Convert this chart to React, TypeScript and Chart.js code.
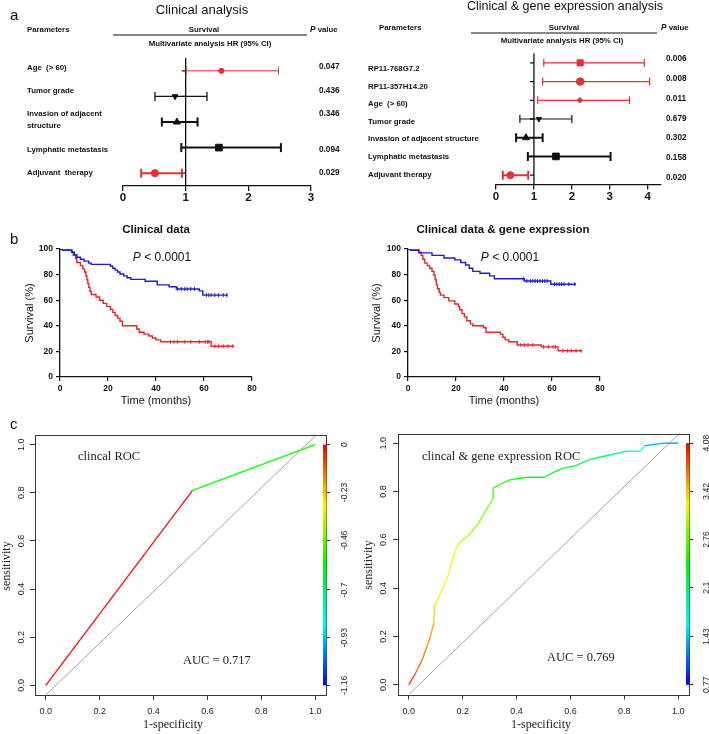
import React, { useEffect, useRef } from 'react';
import { Chart, registerables } from 'chart.js';

Chart.register(...registerables);

const SANS = '"Liberation Sans", Arial, Helvetica, sans-serif';
const SERIF = '"Liberation Serif", "Times New Roman", Times, serif';
const RED = '#e43131';
const BLACK = '#111111';
const KM_BLUE = '#1e1ec8';
const KM_RED = '#e6252b';

// ---------- a: forest plots ----------
const clinRows = ['Age  (> 60)', 'Tumor grade', 'Invasion of adjacent\nstructure', 'Lymphatic metastasis', 'Adjuvant  therapy'];
const clinHR = [1.57, 0.83, 0.86, 1.53, 0.51];
const clinLow = [1.01, 0.51, 0.62, 0.93, 0.29];
const clinHigh = [2.48, 1.34, 1.19, 2.52, 0.94];
const clinP = ['0.047', '0.436', '0.346', '0.094', '0.029'];
const clinSignificant = [true, false, false, false, true];

const geneRows = ['RP11-768G7.2', 'RP11-357H14.20', 'Age  (> 60)', 'Tumor grade', 'Invasion of adjacent structure', 'Lymphatic metastasis', 'Adjuvant therapy'];
const geneHR = [2.22, 2.22, 2.21, 1.13, 0.79, 1.58, 0.38];
const geneLow = [1.26, 1.23, 1.1, 0.63, 0.53, 0.84, 0.18];
const geneHigh = [3.91, 4.05, 3.52, 2.0, 1.23, 3.02, 0.85];
const geneP = ['0.006', '0.008', '0.011', '0.679', '0.302', '0.158', '0.020'];
const geneSignificant = [true, true, true, false, false, false, true];

// ---------- b: Kaplan-Meier ----------
const kmClinLowT = [0, 1, 5, 6, 7, 8.5, 10, 12, 13, 21, 22, 23, 24, 25, 26.5, 28, 29.5, 35.5, 40.5, 45.5, 48.5, 58, 59.5, 70];
const kmClinLowS = [100, 99, 97.5, 95.5, 93.5, 92, 90.5, 89, 88, 86.5, 85, 83.5, 82, 80.5, 79, 77.5, 76.3, 74.8, 72, 70.5, 68.8, 67.3, 64, 64];
const kmClinLowCensor = [49, 50.5, 52, 53, 54.5, 56, 61, 62, 63, 64.5, 66, 68, 69.5];

const kmClinHighT = [0, 4.8, 5.5, 6.5, 7, 8.5, 9.5, 10.2, 10.8, 11.2, 11.6, 12, 12.5, 13, 15, 16.5, 18, 19.5, 21, 22, 23, 24, 25, 26, 32, 33, 35, 37, 38.5, 40, 42, 63, 72.5];
const kmClinHighS = [100, 97.5, 95, 92.5, 89.5, 87, 84.5, 82, 79, 76, 73, 70, 67, 64.5, 62.5, 60, 57.5, 55, 52.7, 50.5, 48, 46, 43.5, 40, 37.5, 35, 33.5, 32, 30.5, 29, 27.5, 24, 24];
const kmClinHighCensor = [46, 47.5, 49, 52, 54.5, 58, 60.5, 61.5, 62, 64.5, 66, 68, 70, 72];

const kmGeneLowT = [0, 1, 4.5, 10, 15, 19.5, 22, 24, 25.5, 27, 30, 34, 36, 48.5, 59.5, 70];
const kmGeneLowS = [100, 99, 97, 95, 93, 91.5, 89.5, 87.5, 85, 82.5, 81, 79, 76.8, 75, 72.5, 72.5];
const kmGeneLowCensor = [48, 49.5, 51, 52, 53, 54, 55, 56, 57, 58, 61, 62, 63, 64, 65, 67, 69.5];

const kmGeneHighT = [0, 4.5, 5.5, 6.2, 7, 8, 9, 10, 10.8, 11.3, 11.8, 12.3, 13, 13.5, 15, 17, 19.5, 21, 21.5, 22.5, 23.5, 24.5, 26, 27, 31.5, 32.5, 38.5, 39.5, 40.5, 42, 45.5, 55.5, 62.5, 72.5];
const kmGeneHighS = [100, 97.5, 95, 92, 89, 87, 85, 82.5, 79.5, 76, 72, 69, 66, 64, 62, 59.5, 57, 55, 52.5, 49.5, 47, 44, 41.5, 40, 38.5, 35, 33.5, 31, 29, 27.5, 25, 23.5, 20.5, 20.5];
const kmGeneHighCensor = [47, 48.5, 50, 52, 56.5, 58.5, 60.5, 61.5, 64.5, 66.5, 68, 70, 72];

// ---------- c: ROC ----------
const rocTicks = [0, 0.2, 0.4, 0.6, 0.8, 1.0];
const diagX = [0, 1.06];
const diagY = [-0.04, 1.1];

const rocClinFpr = [0, 0.545, 1.0];
const rocClinTpr = [0, 0.81, 1.0];
const rocClinThr = [0, 0, -0.58];
const rocClinCbTicks = ['0', '-0.23', '-0.46', '-0.7', '-0.93', '-1.16'];

const rocGeneFpr = [0, 0.025, 0.05, 0.068, 0.08, 0.093, 0.095, 0.118, 0.14, 0.155, 0.173, 0.19, 0.22, 0.26, 0.285, 0.313, 0.313, 0.34, 0.378, 0.44, 0.502, 0.54, 0.57, 0.62, 0.67, 0.737, 0.81, 0.86, 0.876, 0.948, 1.0];
const rocGeneTpr = [0, 0.048, 0.104, 0.16, 0.2, 0.256, 0.325, 0.38, 0.43, 0.49, 0.56, 0.59, 0.616, 0.67, 0.72, 0.77, 0.813, 0.83, 0.849, 0.859, 0.859, 0.88, 0.896, 0.907, 0.932, 0.949, 0.967, 0.967, 0.99, 1.0, 1.0];
const rocGeneThr = [4.08, 3.94, 3.8, 3.69, 3.64, 3.56, 3.42, 3.32, 3.28, 3.23, 3.17, 3.09, 3.0, 2.91, 2.84, 2.77, 2.63, 2.56, 2.49, 2.45, 2.43, 2.38, 2.34, 2.29, 2.22, 2.15, 2.04, 1.94, 1.6, 1.32, 1.19];
const rocGeneCbTicks = ['4.08', '3.42', '2.76', '2.1', '1.43', '0.77'];

// ---------- styles ----------
const clinStyle = {
  marker: ['circle', 'triangle', 'triangle', 'rect', 'circle'],
  rot: [0, 180, 0, 0, 0],
  size: [2.6, 3.3, 4, 4.7, 3.6],
  lw: [1, 1.3, 2, 2, 2],
  cap: [4, 4.5, 4.5, 4.5, 4.5],
};
const geneStyle = {
  marker: ['rect', 'circle', 'rectRot', 'triangle', 'triangle', 'rect', 'circle'],
  rot: [0, 0, 0, 180, 0, 0, 0],
  size: [4.3, 3.8, 2.8, 3, 4, 4.7, 3.5],
  lw: [1.2, 1.2, 1.2, 1.2, 2, 2, 2],
  cap: [4, 4, 4, 4, 4.5, 4.5, 4.5],
};

// ---------- helpers ----------
type Part = { text: string; font: string };
type TextItem = { x: number; y: number; parts: Part[]; align?: 'left' | 'center' | 'right'; rot?: number; color?: string };
type Area = { left: number; right: number; top: number; bottom: number };

const T = (x: number, y: number, text: string, font: string, align: 'left' | 'center' | 'right' = 'left', rot = 0, color = BLACK): TextItem =>
  ({ x, y, parts: [{ text, font }], align, rot, color });

function drawItems(ctx: CanvasRenderingContext2D, items: TextItem[], ox: number, oy: number) {
  for (const it of items) {
    ctx.save();
    ctx.translate(it.x - ox, it.y - oy);
    if (it.rot) ctx.rotate((it.rot * Math.PI) / 180);
    ctx.fillStyle = it.color || BLACK;
    ctx.textBaseline = 'middle';
    ctx.textAlign = 'left';
    let total = 0;
    const widths = it.parts.map((p) => {
      ctx.font = p.font;
      const w = ctx.measureText(p.text).width;
      total += w;
      return w;
    });
    let cx = it.align === 'center' ? -total / 2 : it.align === 'right' ? -total : 0;
    it.parts.forEach((p, i) => {
      ctx.font = p.font;
      ctx.fillText(p.text, cx, 0);
      cx += widths[i];
    });
    ctx.restore();
  }
}

function kmAt(t: number[], s: number[], x: number) {
  let v = s[0];
  for (let i = 0; i < t.length; i++) if (t[i] <= x) v = s[i];
  return v;
}

function rainbow(v: number, min: number, max: number) {
  const f = Math.min(1, Math.max(0, (v - min) / (max - min)));
  const h = (1 - f) * 240;
  return `hsl(${h.toFixed(1)}, 100%, 52%)`;
}

const hdr = (s: number) => `bold ${s}px ${SANS}`;

// ---------- forest ----------
type ForestSpec = {
  ox: number; oy: number; w: number; h: number; area: Area; xMax: number;
  rows: string[]; hr: number[]; lo: number[]; hi: number[]; pv: string[]; sig: boolean[];
  style: typeof clinStyle;
  labelX: number; labelDy: number[]; pX: number; pDy: number[];
  texts: TextItem[]; line: [number, number, number];
};

function forestConfig(s: ForestSpec): any {
  const n = s.hr.length;
  const col = s.sig.map((v) => (v ? RED : BLACK));
  const datasets: any[] = [{
    data: s.hr.map((v, i) => ({ x: v, y: i })),
    pointStyle: s.style.marker, pointRotation: s.style.rot, pointRadius: s.style.size,
    pointBackgroundColor: col, pointBorderColor: col, pointBorderWidth: 1, showLine: false,
  }];
  for (let i = 0; i < n; i++) {
    datasets.push({
      data: [{ x: s.lo[i], y: i }, { x: s.hi[i], y: i }],
      showLine: true, borderColor: col[i], borderWidth: s.style.lw[i],
      pointStyle: 'line', pointRotation: 90, pointRadius: s.style.cap[i],
      pointBorderColor: col[i], pointBackgroundColor: col[i], pointBorderWidth: s.style.lw[i],
    });
  }
  return {
    type: 'scatter',
    data: { datasets },
    options: {
      animation: false, responsive: false, events: [],
      layout: { padding: { left: s.area.left - s.ox, right: s.ox + s.w - s.area.right, top: s.area.top - s.oy, bottom: 0 } },
      plugins: { legend: { display: false }, tooltip: { enabled: false } },
      scales: {
        x: {
          type: 'linear', min: 0, max: s.xMax,
          ticks: { stepSize: 1, includeBounds: false, font: { family: SANS, size: 11.5, weight: 'bold' }, color: BLACK, padding: 0, maxRotation: 0, autoSkip: false },
          grid: { drawOnChartArea: false, drawTicks: true, tickLength: 5, color: BLACK, lineWidth: 1.3 },
          border: { display: true, color: BLACK, width: 1.3 },
          afterFit: (sc: any) => { sc.height = s.oy + s.h - s.area.bottom; },
        },
        y: { type: 'linear', display: false, min: -0.5, max: n - 0.5, reverse: true },
      },
    },
    plugins: [{
      id: 'forestDeco',
      beforeDatasetsDraw(chart: any) {
        const ctx = chart.ctx;
        const x1 = chart.scales.x.getPixelForValue(1);
        ctx.save();
        ctx.strokeStyle = BLACK;
        ctx.lineWidth = 1.3;
        ctx.beginPath();
        ctx.moveTo(x1, chart.chartArea.top);
        ctx.lineTo(x1, chart.chartArea.bottom);
        for (let i = 0; i < n; i++) {
          const y = chart.scales.y.getPixelForValue(i);
          ctx.moveTo(x1 - 4, y);
          ctx.lineTo(x1, y);
        }
        ctx.stroke();
        ctx.restore();
      },
      afterDraw(chart: any) {
        const ctx = chart.ctx;
        ctx.save();
        ctx.strokeStyle = BLACK;
        ctx.lineWidth = 1.2;
        ctx.beginPath();
        ctx.moveTo(s.line[0] - s.ox, s.line[2] - s.oy);
        ctx.lineTo(s.line[1] - s.ox, s.line[2] - s.oy);
        ctx.stroke();
        ctx.restore();
        const items: TextItem[] = [...s.texts];
        for (let i = 0; i < n; i++) {
          const y = chart.scales.y.getPixelForValue(i) + s.oy;
          const lines = s.rows[i].split('\n');
          lines.forEach((ln, k) => {
            items.push(T(s.labelX, y + s.labelDy[i] + (k - (lines.length - 1) / 2) * 12, ln, hdr(7.8)));
          });
          items.push(T(s.pX, y + s.pDy[i], s.pv[i], hdr(8.2)));
        }
        drawItems(ctx, items, s.ox, s.oy);
      },
    }],
  };
}

// ---------- KM ----------
type KMSpec = {
  ox: number; oy: number; w: number; h: number; area: Area;
  lowT: number[]; lowS: number[]; lowC: number[];
  highT: number[]; highS: number[]; highC: number[];
  texts: TextItem[];
};

function kmConfig(s: KMSpec): any {
  const curve = (t: number[], S: number[], color: string) => ({
    data: t.map((x, i) => ({ x, y: S[i] })), showLine: true, stepped: 'before',
    borderColor: color, borderWidth: 1.4, pointRadius: 0,
  });
  const cens = (c: number[], t: number[], S: number[], color: string) => ({
    data: c.map((x) => ({ x, y: kmAt(t, S, x) })), showLine: false,
    pointStyle: 'line', pointRotation: 90, pointRadius: 2, pointBorderColor: color, pointBorderWidth: 1,
  });
  const tickFont = { family: SANS, size: 8.5, weight: 'bold' };
  return {
    type: 'scatter',
    data: {
      datasets: [
        curve(s.lowT, s.lowS, KM_BLUE), curve(s.highT, s.highS, KM_RED),
        cens(s.lowC, s.lowT, s.lowS, KM_BLUE), cens(s.highC, s.highT, s.highS, KM_RED),
      ],
    },
    options: {
      animation: false, responsive: false, events: [],
      layout: { padding: { left: 0, right: s.ox + s.w - s.area.right, top: s.area.top - s.oy, bottom: 0 } },
      plugins: { legend: { display: false }, tooltip: { enabled: false } },
      scales: {
        x: {
          type: 'linear', min: 0, max: 80,
          ticks: { stepSize: 20, font: tickFont, color: BLACK, padding: 3, maxRotation: 0, autoSkip: false },
          grid: { drawOnChartArea: false, tickLength: 4, color: BLACK, lineWidth: 1.2 },
          border: { display: true, color: BLACK, width: 1.3 },
          afterFit: (sc: any) => { sc.height = s.oy + s.h - s.area.bottom; },
        },
        y: {
          type: 'linear', min: 0, max: 100,
          ticks: { stepSize: 20, font: tickFont, color: BLACK, padding: 3, autoSkip: false },
          grid: { drawOnChartArea: false, tickLength: 4, color: BLACK, lineWidth: 1.2 },
          border: { display: true, color: BLACK, width: 1.3 },
          afterFit: (sc: any) => { sc.width = s.area.left - s.ox; },
        },
      },
    },
    plugins: [{
      id: 'kmText',
      afterDraw(chart: any) { drawItems(chart.ctx, s.texts, s.ox, s.oy); },
    }],
  };
}

// ---------- ROC ----------
type ROCSpec = {
  ox: number; oy: number; w: number; h: number; area: Area;
  fpr: number[]; tpr: number[]; thr: number[]; cbTicks: string[];
  yLabelX: number; cbLabelX: number; texts: TextItem[];
};

function rocConfig(s: ROCSpec): any {
  const cbVals = s.cbTicks.map((v) => parseFloat(v));
  const cbMax = Math.max(...cbVals);
  const cbMin = Math.min(...cbVals);
  const cbR = cbMax - cbMin;
  const grid = { drawOnChartArea: false, drawTicks: true, tickLength: 5, color: '#333', lineWidth: 1 };
  return {
    type: 'scatter',
    data: {
      datasets: [
        {
          data: s.fpr.map((x, i) => ({ x, y: s.tpr[i] })), showLine: true, pointRadius: 0, borderWidth: 1.3,
          borderColor: rainbow(s.thr[0], cbMin, cbMax),
          segment: { borderColor: (c: any) => rainbow(s.thr[c.p1DataIndex], cbMin, cbMax) },
          yAxisID: 'y',
        },
        {
          data: diagX.map((x, i) => ({ x, y: diagY[i] })), showLine: true, pointRadius: 0,
          borderColor: '#a3a3a3', borderWidth: 1, yAxisID: 'y',
        },
      ],
    },
    options: {
      animation: false, responsive: false, events: [],
      layout: { padding: { left: 0, right: 0, top: s.area.top - s.oy, bottom: 0 } },
      plugins: { legend: { display: false }, tooltip: { enabled: false } },
      scales: {
        x: {
          type: 'linear', min: -0.04, max: 1.04,
          afterBuildTicks: (sc: any) => { sc.ticks = rocTicks.map((v) => ({ value: v })); },
          ticks: { callback: (v: any) => Number(v).toFixed(1), font: { family: SANS, size: 9 }, color: '#222', padding: 6.5, maxRotation: 0, autoSkip: false },
          grid, border: { display: false },
          afterFit: (sc: any) => { sc.height = s.oy + s.h - s.area.bottom; },
        },
        y: {
          type: 'linear', min: -0.04, max: 1.04,
          afterBuildTicks: (sc: any) => { sc.ticks = rocTicks.map((v) => ({ value: v })); },
          ticks: { display: false },
          grid, border: { display: false },
          afterFit: (sc: any) => { sc.width = s.area.left - s.ox; },
        },
        yc: {
          type: 'linear', position: 'right', min: cbMin - 0.04 * cbR, max: cbMax + 0.04 * cbR,
          afterBuildTicks: (sc: any) => { sc.ticks = cbVals.map((v) => ({ value: v })); },
          ticks: { display: false },
          grid: { drawOnChartArea: false, drawTicks: true, tickLength: 4, color: '#333', lineWidth: 1 },
          border: { display: false },
          afterFit: (sc: any) => { sc.width = s.ox + s.w - s.area.right; },
        },
      },
    },
    plugins: [{
      id: 'rocDeco',
      afterDatasetsDraw(chart: any) {
        const ctx = chart.ctx;
        const a = chart.chartArea;
        ctx.save();
        ctx.strokeStyle = '#3a3a3a';
        ctx.lineWidth = 1;
        ctx.strokeRect(Math.round(a.left) + 0.5, Math.round(a.top) + 0.5, Math.round(a.right - a.left), Math.round(a.bottom - a.top));
        const yc = chart.scales.yc;
        const yTop = yc.getPixelForValue(cbMax);
        const yBot = yc.getPixelForValue(cbMin);
        const g = ctx.createLinearGradient(0, yTop, 0, yBot);
        for (let k = 0; k <= 8; k++) g.addColorStop(k / 8, `hsl(${k * 30}, 100%, 48%)`);
        ctx.fillStyle = g;
        ctx.fillRect(a.right - 3, yTop, 3.5, yBot - yTop);
        ctx.restore();
      },
      afterDraw(chart: any) {
        const items: TextItem[] = [...s.texts];
        const ys = chart.scales.y;
        const yc = chart.scales.yc;
        rocTicks.forEach((v) => items.push(T(s.yLabelX, ys.getPixelForValue(v) + s.oy, v.toFixed(1), `9px ${SANS}`, 'center', -90, '#222')));
        s.cbTicks.forEach((lab, i) => items.push(T(s.cbLabelX, yc.getPixelForValue(cbVals[i]) + s.oy, lab, `8.5px ${SANS}`, 'center', -90, '#222')));
        drawItems(chart.ctx, items, s.ox, s.oy);
      },
    }],
  };
}

// ---------- specs ----------
const forestClin: ForestSpec = {
  ox: 0, oy: 0, w: 354, h: 205, area: { left: 123, right: 311, top: 58, bottom: 186 }, xMax: 3,
  rows: clinRows, hr: clinHR, lo: clinLow, hi: clinHigh, pv: clinP, sig: clinSignificant, style: clinStyle,
  labelX: 27, labelDy: [-3.3, -5.6, -2.2, 2.2, 0], pX: 319, pDy: [-3.8, -5.6, -8.2, 2.2, -0.4],
  line: [113, 307, 35],
  texts: [
    T(10, 16, 'a', `15px ${SANS}`),
    T(202, 10, 'Clinical analysis', `13px ${SANS}`, 'center'),
    T(27, 30, 'Parameters', hdr(7.8)),
    T(204, 29.5, 'Survival', hdr(7.8), 'center'),
    { x: 310, y: 30, parts: [{ text: 'P', font: `italic bold 8.2px ${SANS}` }, { text: ' value', font: hdr(7.8) }], align: 'left' },
    T(210, 44, 'Multivariate analysis HR (95% CI)', hdr(7.8), 'center'),
  ],
};

const forestGene: ForestSpec = {
  ox: 354, oy: 0, w: 355, h: 205, area: { left: 496, right: 661, top: 53.5, bottom: 184.5 }, xMax: 4.35,
  rows: geneRows, hr: geneHR, lo: geneLow, hi: geneHigh, pv: geneP, sig: geneSignificant, style: geneStyle,
  labelX: 368, labelDy: [6.1, 5.4, 3.7, 3, 1.3, 0.6, 0], pX: 666, pDy: [-3.9, -2.6, -1.3, 0, 0.3, 1.6, 2.9],
  line: [471, 657, 33],
  texts: [
    T(565, 7, 'Clinical & gene expression analysis', `12.5px ${SANS}`, 'center'),
    T(379, 28, 'Parameters', hdr(7.8)),
    T(564, 28, 'Survival', hdr(7.8), 'center'),
    { x: 661, y: 28, parts: [{ text: 'P', font: `italic bold 8.2px ${SANS}` }, { text: ' value', font: hdr(7.8) }], align: 'left' },
    T(562, 41, 'Multivariate analysis HR (95% CI)', hdr(7.8), 'center'),
  ],
};

const pText = (x: number, y: number): TextItem => ({
  x, y, align: 'center',
  parts: [{ text: 'P', font: `italic 12px ${SANS}` }, { text: ' < 0.0001', font: `12px ${SANS}` }],
});

const kmClin: KMSpec = {
  ox: 0, oy: 205, w: 354, h: 205, area: { left: 60, right: 252, top: 249, bottom: 377 },
  lowT: kmClinLowT, lowS: kmClinLowS, lowC: kmClinLowCensor,
  highT: kmClinHighT, highS: kmClinHighS, highC: kmClinHighCensor,
  texts: [
    T(10, 240, 'b', `15px ${SANS}`),
    T(156, 230, 'Clinical data', `bold 11.5px ${SANS}`, 'center'),
    pText(162, 258),
    T(30, 313, 'Survival (%)', `11px ${SANS}`, 'center', -90),
    T(156, 401, 'Time (months)', `11px ${SANS}`, 'center'),
  ],
};

const kmGene: KMSpec = {
  ox: 354, oy: 205, w: 355, h: 205, area: { left: 408, right: 600, top: 249, bottom: 377 },
  lowT: kmGeneLowT, lowS: kmGeneLowS, lowC: kmGeneLowCensor,
  highT: kmGeneHighT, highS: kmGeneHighS, highC: kmGeneHighCensor,
  texts: [
    T(503, 230, 'Clinical data & gene expression', `bold 11.5px ${SANS}`, 'center'),
    pText(510, 258),
    T(377, 313, 'Survival (%)', `11px ${SANS}`, 'center', -90),
    T(504, 401, 'Time (months)', `11px ${SANS}`, 'center'),
  ],
};

const rocClin: ROCSpec = {
  ox: 0, oy: 410, w: 354, h: 324, area: { left: 35, right: 326, top: 435, bottom: 695 },
  fpr: rocClinFpr, tpr: rocClinTpr, thr: rocClinThr, cbTicks: rocClinCbTicks,
  yLabelX: 22, cbLabelX: 345,
  texts: [
    T(10, 425, 'c', `15px ${SANS}`),
    T(78, 457, 'clincal ROC', `12.5px ${SERIF}`, 'left', 0, '#222'),
    T(183, 661, 'AUC = 0.717', `12.5px ${SERIF}`, 'left', 0, '#222'),
    T(173, 725, '1-specificity', `12px ${SERIF}`, 'center', 0, '#222'),
    T(7, 566, 'sensitivity', `12px ${SERIF}`, 'center', -90, '#222'),
  ],
};

const rocGene: ROCSpec = {
  ox: 354, oy: 410, w: 355, h: 324, area: { left: 398, right: 689, top: 433.5, bottom: 694.5 },
  fpr: rocGeneFpr, tpr: rocGeneTpr, thr: rocGeneThr, cbTicks: rocGeneCbTicks,
  yLabelX: 384, cbLabelX: 707,
  texts: [
    T(422, 457, 'clincal & gene expression ROC', `12.5px ${SERIF}`, 'left', 0, '#222'),
    T(547, 658, 'AUC = 0.769', `12.5px ${SERIF}`, 'left', 0, '#222'),
    T(541, 725, '1-specificity', `12px ${SERIF}`, 'center', 0, '#222'),
    T(369, 565, 'sensitivity', `12px ${SERIF}`, 'center', -90, '#222'),
  ],
};

function ChartBox({ x, y, w, h, make }: { x: number; y: number; w: number; h: number; make: () => any }) {
  const ref = useRef<HTMLCanvasElement>(null);
  useEffect(() => {
    const chart = new Chart(ref.current as HTMLCanvasElement, make());
    return () => chart.destroy();
  }, []);
  return <canvas ref={ref} width={w} height={h} style={{ position: 'absolute', left: x, top: y, width: w, height: h }} />;
}

export default function App() {
  return (
    <div style={{ position: 'absolute', left: 0, top: 0, width: 709, height: 734, background: '#fff', overflow: 'hidden' }}>
      <ChartBox x={0} y={0} w={354} h={205} make={() => forestConfig(forestClin)} />
      <ChartBox x={354} y={0} w={355} h={205} make={() => forestConfig(forestGene)} />
      <ChartBox x={0} y={205} w={354} h={205} make={() => kmConfig(kmClin)} />
      <ChartBox x={354} y={205} w={355} h={205} make={() => kmConfig(kmGene)} />
      <ChartBox x={0} y={410} w={354} h={324} make={() => rocConfig(rocClin)} />
      <ChartBox x={354} y={410} w={355} h={324} make={() => rocConfig(rocGene)} />
    </div>
  );
}
